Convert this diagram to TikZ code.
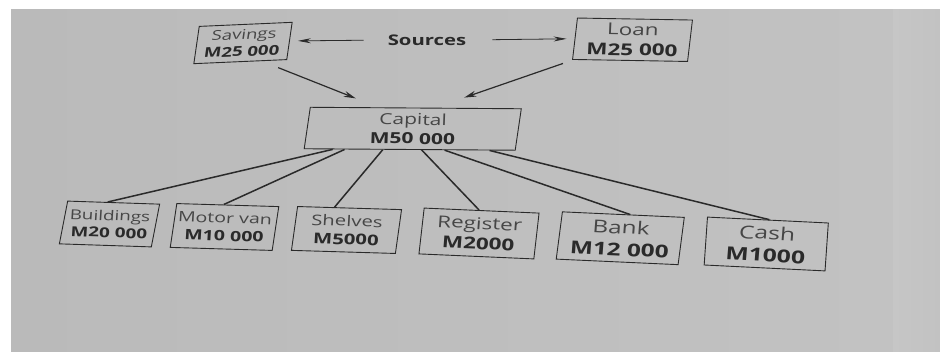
\documentclass[tikz,border=0pt]{standalone}
\usepackage{fontspec}
\setmainfont{Open Sans}[FakeStretch=1.38]
\usetikzlibrary{calc,arrows.meta}

\definecolor{ink}{RGB}{42,42,42}
\definecolor{lblcol}{RGB}{70,70,70}
\definecolor{paperL}{RGB}{186,186,186}
\definecolor{paperM}{RGB}{202,202,202}
\definecolor{paperR}{RGB}{194,194,194}
\definecolor{paperS}{RGB}{198,198,198}

\newcommand\cardlabel[1]{{\color{lblcol}#1}}
\newcommand\cardvalue[1]{{\bfseries #1}}
\newcommand\cardtextslant{0}

% #1 name, #2 x, #3 y (downwards), #4 tilt, #5 slant of the frame,
% #6 width, #7 height, #8 font size, #9 text
\newcommand\cardbox[9]{%
  \begin{scope}[shift={(#2,-#3)},rotate=#4]
    \pgfmathsetmacro\cardsize{1.05*#8}
    \pgfmathsetmacro\cardskip{1.25*\cardsize}
    \begin{scope}[xslant=#5]
      \node[cardframe,minimum width=#6pt,minimum height=#7pt] (#1) at (0,0) {};
    \end{scope}
    \begin{scope}[xslant=\cardtextslant]
      \node[cardtext,font=\fontsize{\cardsize}{\cardskip}\selectfont] (#1-t) at (0,0) {#9};
    \end{scope}
  \end{scope}}

\tikzset{
  cardframe/.style={draw=ink,line width=0.9pt,inner sep=0pt,transform shape},
  cardtext/.style={align=center,inner sep=0pt,transform shape,text=ink},
  link/.style={draw=ink,line width=1.5pt},
  feed/.style={draw=ink,line width=1.2pt,-{Stealth[length=12pt,width=6pt]}},
  hint/.style={draw=ink,line width=0.8pt,-{Stealth[length=13pt,width=5pt]}},
}

\begin{document}
\begin{tikzpicture}[x=1pt,y=1pt]
  \useasboundingbox (0,0) rectangle (940,-352);
  % page background
  \fill[white] (0,0) rectangle (940,-352);
  \shade[left color=paperL,middle color=paperM,right color=paperR]
    (11,-10) rectangle (893,-352);
  \shade[left color=paperS,right color=paperR] (893,-10) rectangle (940,-352);

  % source boxes
  \renewcommand\cardtextslant{0.19}
  \cardbox{sav}{243}{43}{2.5}{0.19}{93}{37}{12.8}{\cardlabel{Savings}\\\cardvalue{M25 000}}
  \renewcommand\cardtextslant{0.03}
  \cardbox{loan}{632.5}{39.75}{-1}{0.1}{115}{41.5}{15.5}{\cardlabel{Loan}\\\cardvalue{M25 000}}
  \node[inner sep=0pt,text=ink,font=\bfseries\fontsize{14.7}{17}\selectfont]
    (src) at (427,-40) {Sources};

  % capital
  \cardbox{cap}{412.75}{128.75}{-0.4}{0.14}{211}{41.5}{14.5}{\cardlabel{Capital}\\\cardvalue{M50 000}}

  % assets
  \cardbox{bld}{109.5}{224}{-1.9}{0.16}{92}{43}{13}{\cardlabel{Buildings}\\\cardvalue{M20 000}}
  \cardbox{van}{224.5}{227}{-1.7}{0.12}{102}{44}{13.5}{\cardlabel{Motor van}\\\cardvalue{M10 000}}
  \cardbox{shv}{346.5}{230}{-1.7}{0.11}{104}{44}{14}{\cardlabel{Shelves}\\\cardvalue{M5000}}
  \cardbox{reg}{479}{233.5}{-2.5}{0.07}{115}{46}{15.5}{\cardlabel{Register}\\\cardvalue{M2000}}
  \cardbox{bank}{620.25}{238.25}{-2.6}{0.085}{122}{47.5}{16.8}{\cardlabel{Bank}\\\cardvalue{M12 000}}
  \cardbox{cash}{766.25}{244}{-2.8}{0.02}{121}{48}{17}{\cardlabel{Cash}\\\cardvalue{M1000}}

  % sources arrows
  \draw[hint,shorten <=24pt,shorten >=8pt] (src.west) -- (sav.east);
  \draw[hint,shorten <=26pt,shorten >=8pt] (src.east) -- (loan.west);

  % into capital
  \draw[feed,shorten <=17.6pt,shorten >=24.3pt]
    ($(sav.south west)!0.73!(sav.south east)$) -- ($(cap.north west)!0.323!(cap.north east)$);
  \draw[feed,shorten <=10.9pt,shorten >=31pt]
    ($(loan.south west)!0.01!(loan.south east)$) -- ($(cap.north west)!0.59!(cap.north east)$);

  % capital spread over assets
  \draw[link] ($(cap.south west)!0.137!(cap.south east)$) -- ($(bld.north west)!0.435!(bld.north east)$);
  \draw[link] ($(cap.south west)!0.193!(cap.south east)$) -- ($(van.north west)!0.46!(van.north east)$);
  \draw[link] ($(cap.south west)!0.373!(cap.south east)$) -- ($(shv.north west)!0.356!(shv.north east)$);
  \draw[link] ($(cap.south west)!0.557!(cap.south east)$) -- ($(reg.north west)!0.478!(reg.north east)$);
  \draw[link] ($(cap.south west)!0.665!(cap.south east)$) -- ($(bank.north west)!0.554!(bank.north east)$);
  \draw[link] ($(cap.south west)!0.877!(cap.south east)$) -- ($(cash.north west)!0.512!(cash.north east)$);
\end{tikzpicture}
\end{document}
